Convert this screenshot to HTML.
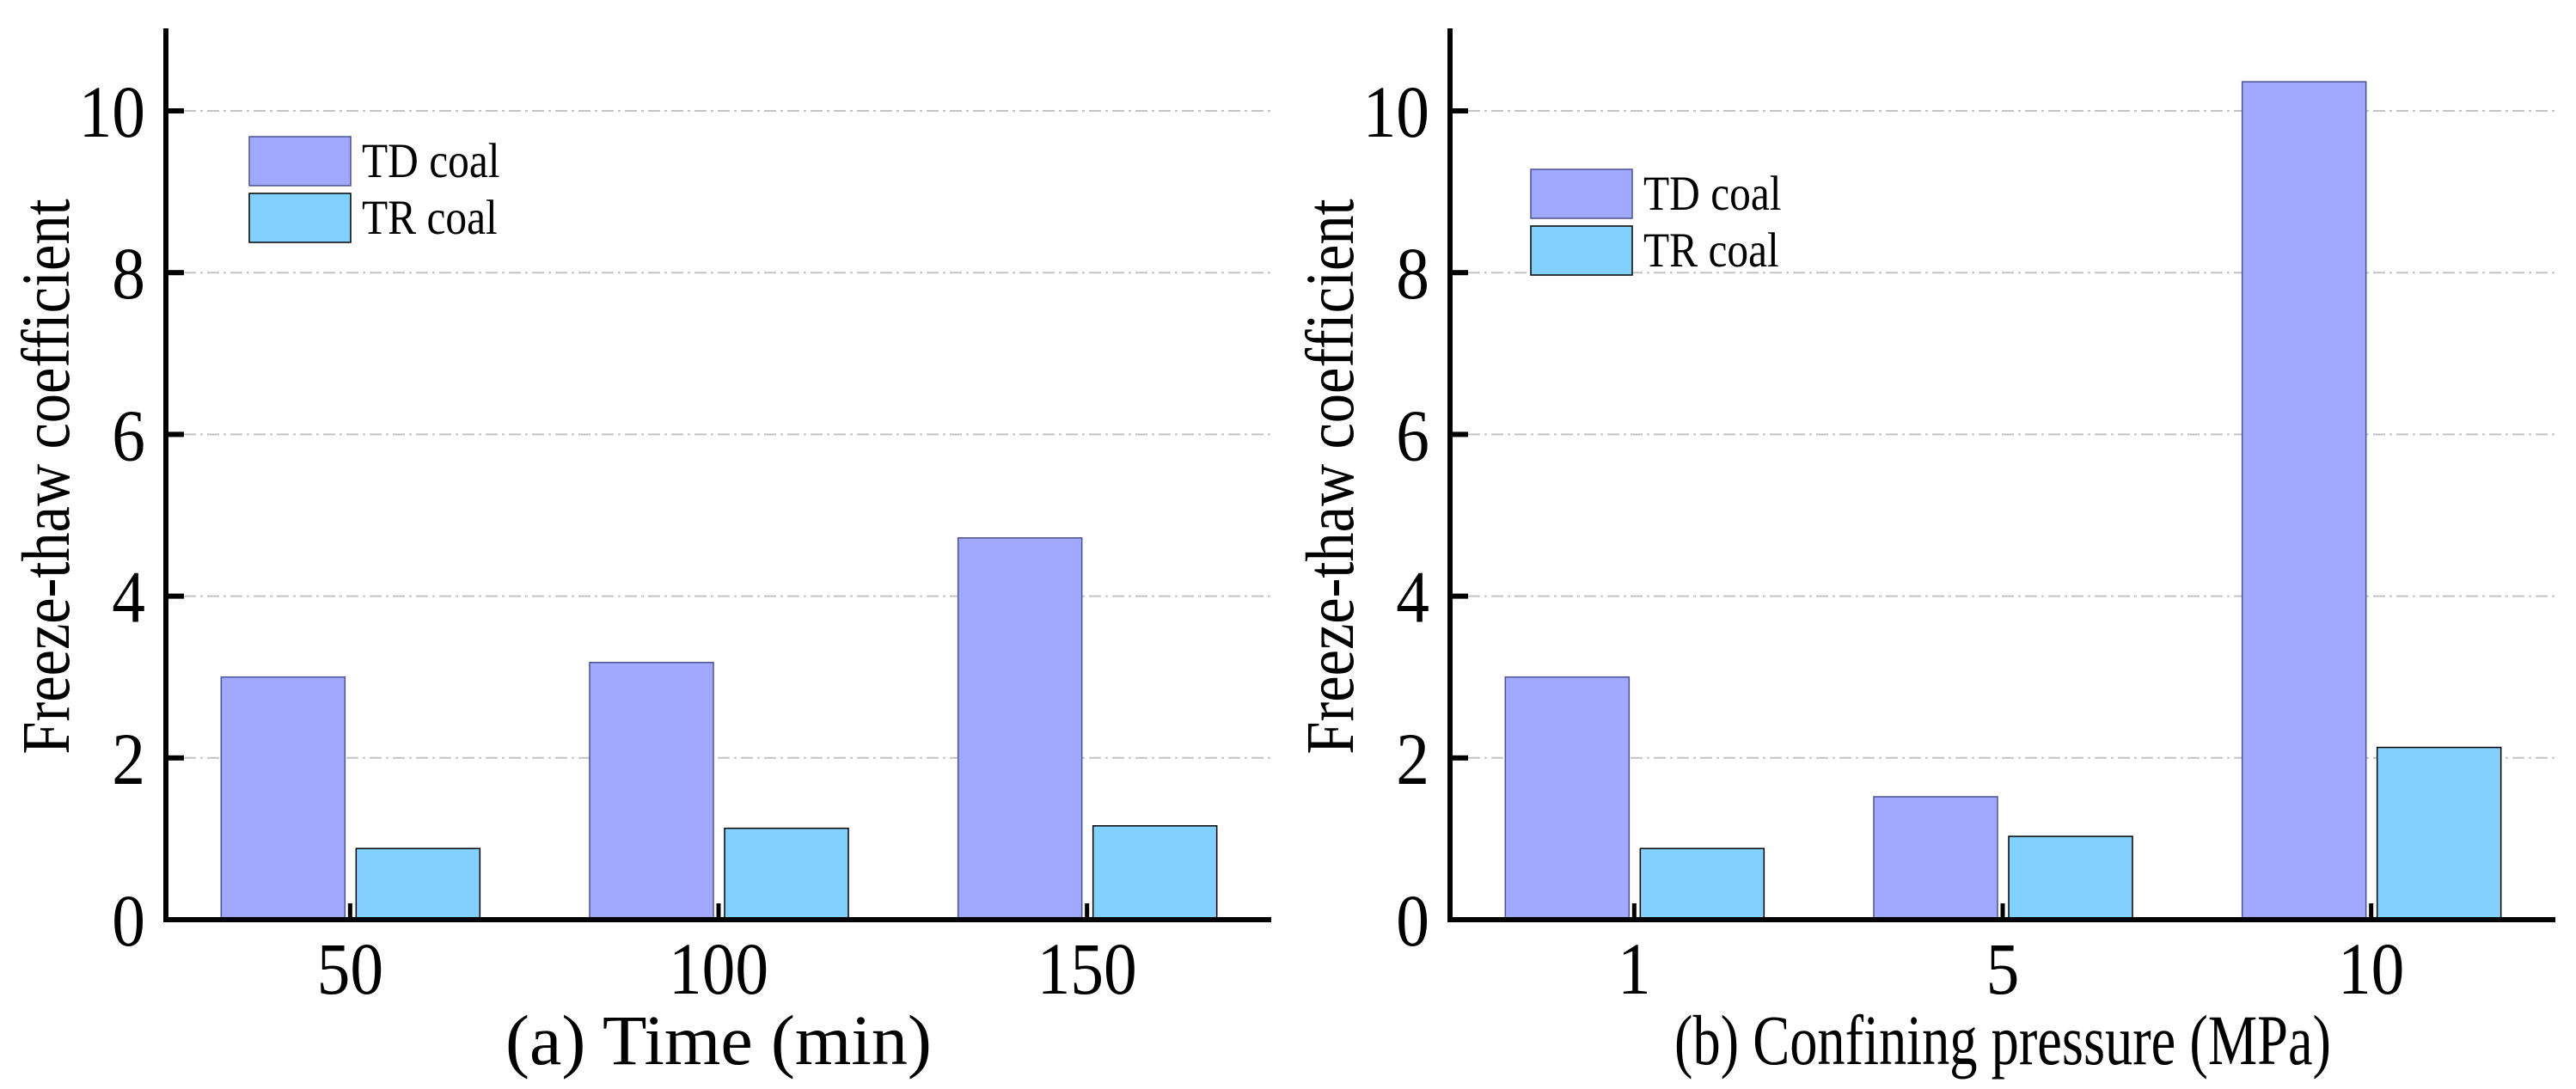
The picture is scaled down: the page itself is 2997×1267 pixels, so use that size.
<!DOCTYPE html>
<html><head><meta charset="utf-8"><style>
html,body{margin:0;padding:0;background:#fff}
svg{display:block}
text{font-family:"Liberation Serif",serif;fill:#000}
</style></head><body>
<svg id="chart" width="2997" height="1267" viewBox="0 0 2997 1267" xmlns="http://www.w3.org/2000/svg"></svg>
<script>
const catsA = ["50","100","150"];
const tdA = [3.0, 3.18, 4.72];
const trA = [0.88, 1.13, 1.16];
const catsB = ["1","5","10"];
const tdB = [3.0, 1.52, 10.36];
const trB = [0.88, 1.03, 2.13];
const yTicks = [0,2,4,6,8,10];
const seriesNames = ["TD coal","TR coal"];

const NS="http://www.w3.org/2000/svg";
const svg=document.getElementById('chart');
function mk(tag,attrs,parent){const e=document.createElementNS(NS,tag);for(const k in attrs)e.setAttribute(k,attrs[k]);(parent||svg).appendChild(e);return e;}

function panel(ox, cats, td, tr, xtitle, xtLen, legY, legX, id){
  const g=mk('g',{});
  
  
  const x0=ox+193, x1=ox+1479, yb=1070;
  const unit=(1070-129)/10;
  const y=v=>yb-v*unit;
  const step=(x1-x0)/3;
  const xc=i=>x0+step*(i+0.5);
  yTicks.forEach(t=>{ if(t===0) return;
    const l=mk('line',{x1:x0+21,x2:x1,y1:y(t),y2:y(t),stroke:'#c4c4c4','stroke-width':2,'stroke-dasharray':'14 5 3 5'},g);
    
    
  });
  cats.forEach((c,i)=>{
    const b1=mk('rect',{x:xc(i)-150,y:y(td[i]),width:144,height:yb-y(td[i]),fill:'#a0a9fe',stroke:'#4a5290','stroke-width':1.5},g);
    
    
    const b2=mk('rect',{x:xc(i)+7,y:y(tr[i]),width:144,height:yb-y(tr[i]),fill:'#82d0fe',stroke:'#000','stroke-width':1.5},g);
    
    
    const tk=mk('rect',{x:xc(i)-2.5,y:1051,width:5,height:19,fill:'#000'},g);
    
    
    const tl=mk('text',{x:xc(i),y:1156,'font-size':86,'text-anchor':'middle',transform:`translate(${xc(i)*0.1},0) scale(0.9,1)`},g);
    tl.textContent=c;
    
    
  });
  const ya=mk('rect',{x:x0-3,y:33,width:6,height:yb-33+3,fill:'#000'},g);
  
  
  const xa=mk('rect',{x:x0-3,y:yb-3,width:x1-x0+3,height:6,fill:'#000'},g);
  
  
  yTicks.forEach(t=>{
    const tk=mk('rect',{x:x0,y:y(t)-3,width:21,height:6,fill:'#000'},g);
    
    
    const tl=mk('text',{x:x0-24,y:y(t)+30,'font-size':86,'text-anchor':'end',transform:`translate(${(x0-24)*0.1},0) scale(0.9,1)`},g);
    tl.textContent=t;
    
    
  });
  const yt=mk('text',{x:0,y:0,'font-size':72,'text-anchor':'middle',transform:`translate(${ox+80},${(33+1070)/2+3}) rotate(-90) scale(0.95,1.1)`},g);
  yt.textContent='Freeze-thaw coefficient';
  
  
  const xt=mk('text',{x:(x0+x1)/2 - xtLen/2,y:0,'font-size':72,textLength:xtLen,lengthAdjust:'spacingAndGlyphs',transform:`translate(0,1238) scale(1,1.15)`},g);
  xt.textContent=xtitle;
  
  
  const cols=['#a0a9fe','#82d0fe'], strokes=['#4a5290','#000'];
  seriesNames.forEach((n,k)=>{
    const yy=legY+k*66;
    const r=mk('rect',{x:legX,y:yy,width:118,height:57,fill:cols[k],stroke:strokes[k],'stroke-width':1.5},g);
    
    
    const t=mk('text',{x:0,y:0,'font-size':52,transform:`translate(${legX+131},${yy+47}) scale(0.95,1.1)`},g);
    t.textContent=n;
    
    
  });
}
panel(0, catsA, tdA, trA, '(a) Time (min)', 496, 159, 290, 'a');
panel(1494, catsB, tdB, trB, '(b) Confining pressure (MPa)', 764, 197, 1781, 'b');
</script>
</body></html>
